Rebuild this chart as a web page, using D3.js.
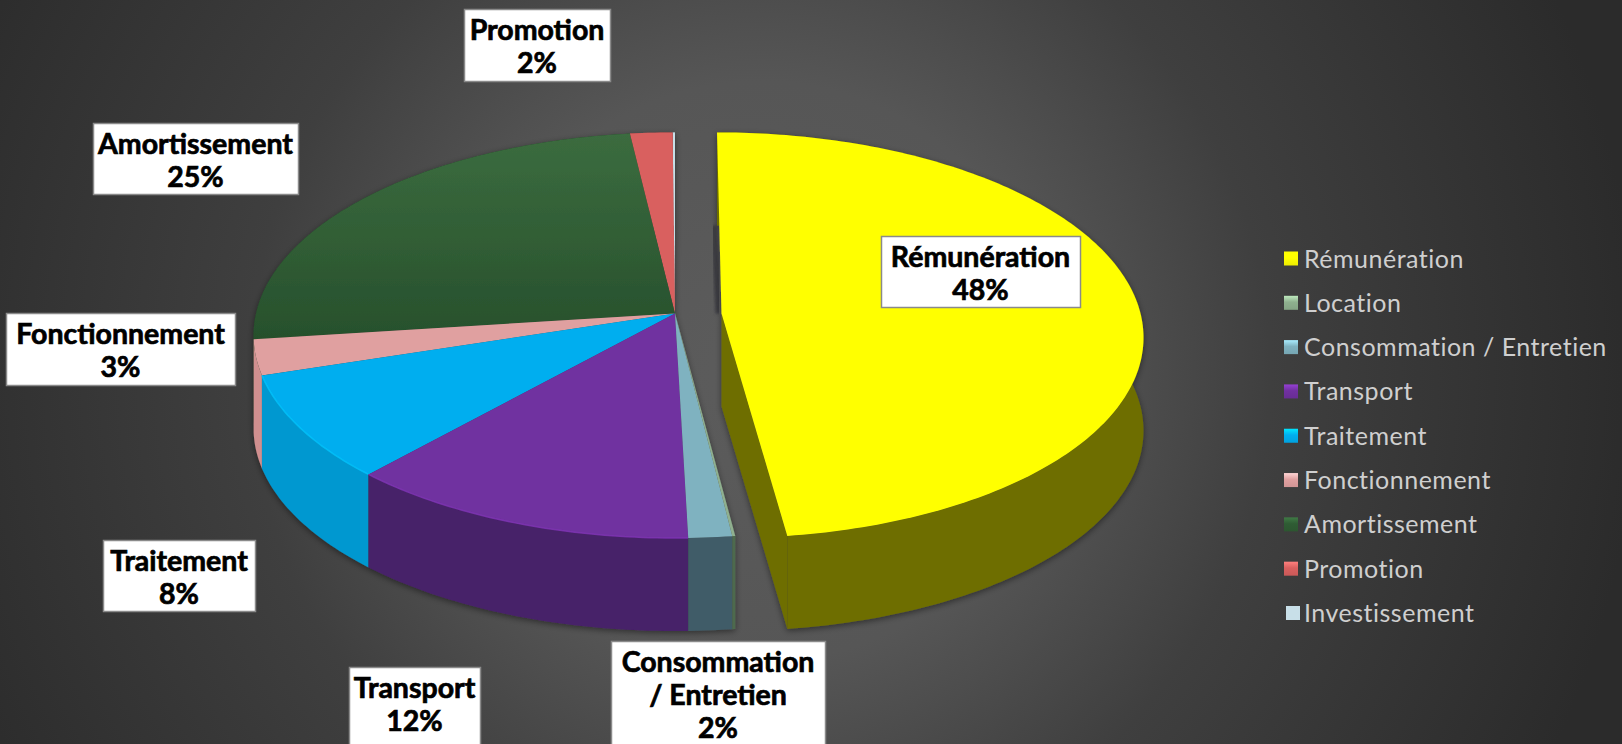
<!DOCTYPE html>
<html>
<head>
<meta charset="utf-8">
<script src="https://cdn.jsdelivr.net/npm/d3@7"></script>
<style>
  body { margin: 0; background: #333; overflow: hidden; }
  svg { display: block; }
  text { font-family: Lato, "Noto Sans", sans-serif; }
</style>
</head>
<body>
<div id="chart"></div>
<script>
// Pie chart in fake 3D (perspective tilted disc) - budget breakdown

// Pt. 0 - DATA

const categories = ["Rémunération", "Location", "Consommation / Entretien", "Transport",
    "Traitement", "Fonctionnement", "Amortissement", "Promotion", "Investissement"];
const values = [47.9, 0.1, 1.5, 12.2, 8.4, 2.8, 25.1, 1.8, 0.1];
const topColors = ["#ffff00", "#8fb08f", "#7fb2c0", "#7030a0", "#00aeef", "#e0a0a0", "#2f5c34", "#d9605f", "#c8dfe8"];
const sideColors = ["#6e6e00", "#4e6a4e", "#3f5c68", "#472069", "#0098d0", "#d08f8f", "#1f3f24", "#8f3d3d", "#8fa8b0"];

// Pt. 1 - LAYOUT

const width = 1622,
      height = 744;

const cx = 675, cy = 313.5,   // apex of the pie on screen
      radiusX = 419, radiusY = 200.5,
      persp = 0.107,          // front of the disc is bigger than the back
      depth = 93,
      explode = 0.111;        // first slice is pulled out to the right

// label boxes: x0, y0, x1, y1 (null = no label)
const labelBoxes = [[881, 236, 1080, 307], null, [611, 641, 825, 750], [349, 667, 480, 750],
    [103, 540, 255, 611], [6, 313, 235, 385], [93, 123, 298, 194], [464, 9, 610, 81], null];

let svg = d3.select("#chart")
    .append("svg")
    .attr("width", width)
    .attr("height", height)
    .attr("viewBox", [0, 0, width, height]);

let defs = svg.append("defs");

let bg = defs.append("radialGradient")
    .attr("id", "bg")
    .attr("gradientUnits", "userSpaceOnUse")
    .attr("cx", 760).attr("cy", 372).attr("r", 880);
bg.append("stop").attr("offset", 0).attr("stop-color", "#5c5c5c");
bg.append("stop").attr("offset", 0.33).attr("stop-color", "#565656");
bg.append("stop").attr("offset", 0.58).attr("stop-color", "#3f3f3f");
bg.append("stop").attr("offset", 1).attr("stop-color", "#2b2b2b");

defs.append("filter").attr("id", "blur").append("feGaussianBlur").attr("stdDeviation", 1.5);

let shadow = defs.append("filter").attr("id", "shadow")
    .attr("x", "-10%").attr("y", "-10%").attr("width", "120%").attr("height", "120%");
shadow.append("feDropShadow")
    .attr("dx", 0).attr("dy", 2).attr("stdDeviation", 3)
    .attr("flood-color", "#000").attr("flood-opacity", 0.45);

// green slice fades towards the centre
let amortFill = defs.append("linearGradient")
    .attr("id", "amortFill")
    .attr("x1", 0).attr("x2", 0).attr("y1", 0).attr("y2", 1);
amortFill.append("stop").attr("offset", 0).attr("stop-color", "#3b6c3f");
amortFill.append("stop").attr("offset", 1).attr("stop-color", "#27502c");

svg.append("rect")
    .attr("width", width)
    .attr("height", height)
    .attr("fill", "url(#bg)");

// Pt. 2 - SLICES

let pie = d3.pie().sort(null).value(d => d.value);
let slices = pie(categories.map((c, i) => ({ name: c, value: values[i], i })));

// pie coordinates to screen, angle 0 = back of the disc, clockwise
function project(angle, r, shift) {
    let u = r * Math.sin(angle) + shift,
        v = -r * Math.cos(angle),
        s = 1 / (1 - persp * v);
    return [cx + radiusX * u * s, cy + radiusY * v * s];
}

function arcPoints(d, shift) {
    let n = Math.max(2, Math.ceil((d.endAngle - d.startAngle) * 60));
    return d3.range(n + 1).map(k => {
        let a = d.startAngle + (d.endAngle - d.startAngle) * k / n;
        return project(a, 1, shift);
    });
}

const down = p => [p[0], p[1] + depth];
let closed = d3.line().curve(d3.curveLinearClosed);
let open = d3.line();

function drawSlice(g, d, shift) {
    let arc = arcPoints(d, shift),
        apex = project(0, 0, shift),
        color = topColors[d.index],
        side = sideColors[d.index];

    // outer wall
    g.append("path")
        .attr("d", closed(arc.concat(arc.map(down).reverse())))
        .attr("fill", side);

    // cut face at the end of the slice, only the pulled out one shows it
    if (shift > 0) {
        let last = arc[arc.length - 1];
        g.append("path")
            .attr("d", closed([apex, last, down(last), down(apex)]))
            .attr("fill", side);
    }

    // top
    g.append("path")
        .attr("d", closed([apex].concat(arc)))
        .attr("fill", d.index === 6 ? "url(#amortFill)" : color);

    // bevel along the edge of the top, blue and purple only
    if (d.index === 3 || d.index === 4) {
        g.append("path")
            .attr("d", open(arc))
            .attr("fill", "none")
            .attr("stroke", d3.color(color).brighter(0.35))
            .attr("stroke-width", 1.5)
            .attr("opacity", 0.8);
    }
}

let rest = svg.append("g").attr("filter", "url(#shadow)");
slices.slice(1).reverse().forEach(d => drawSlice(rest, d, 0));

// dark back wall of the pulled out slice, seen just left of its edge
let first = slices[0];
svg.append("path")
    .attr("d", open([down(project(0, 1, explode)), project(0, 0, explode)]))
    .attr("transform", "translate(-3, 0)")
    .attr("stroke", "#3a3a40")
    .attr("stroke-width", 6)
    .attr("fill", "none")
    .attr("filter", "url(#blur)");

let pulled = svg.append("g").attr("filter", "url(#shadow)");
drawSlice(pulled, first, explode);

// Pt. 3 - DATA LABELS

let labels = svg.selectAll(".label")
    .data(slices.filter(d => labelBoxes[d.index]))
    .join("g")
    .attr("class", "label");

labels.append("rect")
    .attr("x", d => labelBoxes[d.index][0] + 0.5)
    .attr("y", d => labelBoxes[d.index][1] + 0.5)
    .attr("width", d => labelBoxes[d.index][2] - labelBoxes[d.index][0])
    .attr("height", d => labelBoxes[d.index][3] - labelBoxes[d.index][1])
    .attr("fill", "white")
    .attr("stroke", "#8a8a8a")
    .attr("stroke-width", 1.5);

labels.each(function (d) {
    let box = labelBoxes[d.index],
        lines = d.data.name.replace(" / ", "\n/ ").split("\n");
    lines.push(Math.round(d.data.value) + "%");
    d3.select(this).selectAll("text")
        .data(lines)
        .join("text")
        .text(t => t)
        .attr("x", (box[0] + box[2]) / 2)
        .attr("y", (t, i) => box[1] + 31 + i * 33)
        .attr("text-anchor", "middle")
        .attr("font-size", 28.5)
        .attr("font-weight", 700)
        .attr("fill", "black")
        .attr("stroke", "black")
        .attr("stroke-width", 0.7);
});

// Pt. 4 - LEGEND

let rowY = d3.scalePoint()
    .domain(categories)
    .range([258.5, 613]);

let swatchFill = defs.selectAll(".swatch")
    .data(topColors)
    .join("linearGradient")
    .attr("class", "swatch")
    .attr("id", (d, i) => "swatch" + i)
    .attr("x1", 0).attr("x2", 0).attr("y1", 0).attr("y2", 1);
swatchFill.append("stop").attr("offset", 0).attr("stop-color", d => d3.color(d).brighter(0.8));
swatchFill.append("stop").attr("offset", 0.45).attr("stop-color", d => d);
swatchFill.append("stop").attr("offset", 1).attr("stop-color", d => d3.color(d).darker(0.2));

let legend = svg.selectAll(".legend")
    .data(categories)
    .join("g")
    .attr("class", "legend")
    .attr("transform", d => `translate(0, ${rowY(d)})`);

legend.append("rect")
    .attr("x", (d, i) => i === 8 ? 1286 : 1284)
    .attr("y", -7)
    .attr("width", 14)
    .attr("height", 14)
    .attr("fill", (d, i) => i === 8 ? topColors[i] : `url(#swatch${i})`);

legend.append("text")
    .text(d => d)
    .attr("x", 1304)
    .attr("y", 9)
    .attr("font-size", 25)
    .attr("letter-spacing", 0.5)
    .attr("fill", "#cfcfcf");
</script>
</body>
</html>
